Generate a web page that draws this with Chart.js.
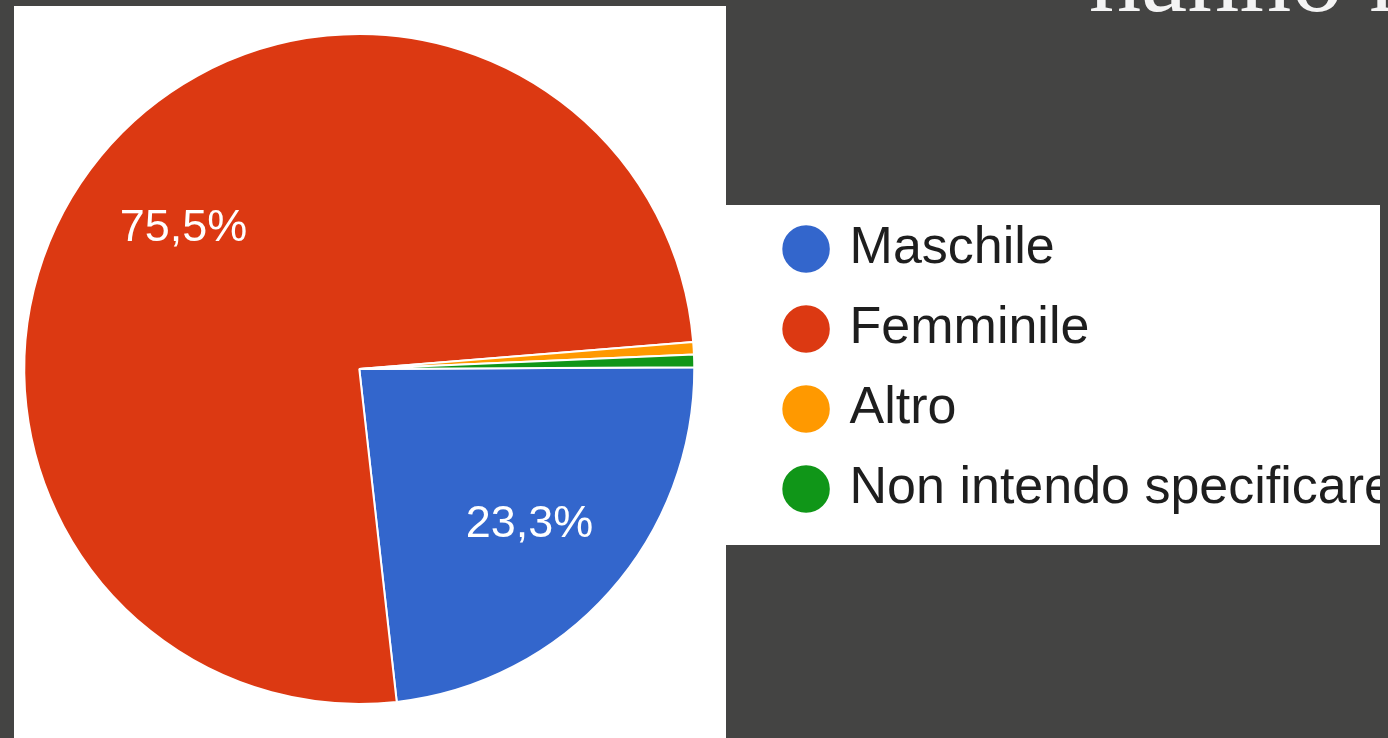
<!DOCTYPE html>
<html>
<head>
<meta charset="utf-8">
<script src="https://cdn.jsdelivr.net/npm/chart.js@4/dist/chart.umd.min.js"></script>
<style>
  html, body { margin: 0; padding: 0; }
  body { width: 1388px; height: 738px; background: #444443; position: relative; overflow: hidden; }
  #title { position: absolute; left: 1089px; top: -76px; font-family: "Liberation Serif", "Times New Roman", serif;
           font-size: 104px; line-height: 1; color: #f4f4f4; white-space: nowrap; }
  .panel { position: absolute; background: #ffffff; }
  #clip { position: absolute; left: 0; top: 0; width: 1380px; height: 738px; overflow: hidden; }
  #pie { position: absolute; left: -42px; top: 0; }
</style>
</head>
<body>
<div id="title">hanno risposto</div>
<div class="panel" style="left:14px; top:6px; width:712px; height:740px;"></div>
<div class="panel" style="left:726px; top:205px; width:654px; height:340px;"></div>
<div id="clip"><canvas id="pie" width="1445" height="738"></canvas></div>
<script>
// data
var categories = ['Maschile', 'Femminile', 'Altro', 'Non intendo specificare'];
var percentages = [23.3, 75.5, 0.6, 0.6];
var sliceColors = ['#3366cc', '#dc3912', '#ff9900', '#109618'];

// white percent labels inside the big slices
var sliceLabels = {
    id: 'sliceLabels',
    afterDatasetsDraw: function(chart) {
        var ctx = chart.ctx;
        var meta = chart.getDatasetMeta(0);
        ctx.save();
        ctx.fillStyle = '#ffffff';
        ctx.font = '45px Arial, "Liberation Sans", sans-serif';
        ctx.textAlign = 'center';
        ctx.textBaseline = 'middle';
        meta.data.forEach(function(arc, i) {
            var v = percentages[i];
            if (v < 5) return;
            var p = arc.getProps(['x', 'y', 'startAngle', 'endAngle', 'outerRadius'], true);
            var mid = (p.startAngle + p.endAngle) / 2;
            var r = p.outerRadius * 0.68;
            ctx.fillText(v.toFixed(1).replace('.', ',') + '%', p.x + Math.cos(mid) * r, p.y + Math.sin(mid) * r + 4);
        });
        ctx.restore();
    }
};

var pieCtx = document.getElementById('pie').getContext('2d');
var pieChart = new Chart(pieCtx, {
    type: 'pie',
    data: {
        labels: categories,
        datasets: [{
            data: percentages,
            backgroundColor: sliceColors,
            borderColor: '#ffffff',
            borderWidth: 2
        }]
    },
    options: {
        responsive: false,
        animation: false,
        devicePixelRatio: 1,
        rotation: 89.7,
        radius: 335,
        layout: { padding: 0 },
        plugins: {
            legend: {
                position: 'right',
                labels: {
                    usePointStyle: true,
                    pointStyle: 'circle',
                    boxWidth: 35,
                    boxHeight: 35,
                    padding: 28,
                    color: '#1e1e1e',
                    font: { family: 'Arial, "Liberation Sans", sans-serif', size: 52 }
                }
            },
            tooltip: { enabled: false }
        }
    },
    plugins: [sliceLabels]
});
</script>
</body>
</html>
